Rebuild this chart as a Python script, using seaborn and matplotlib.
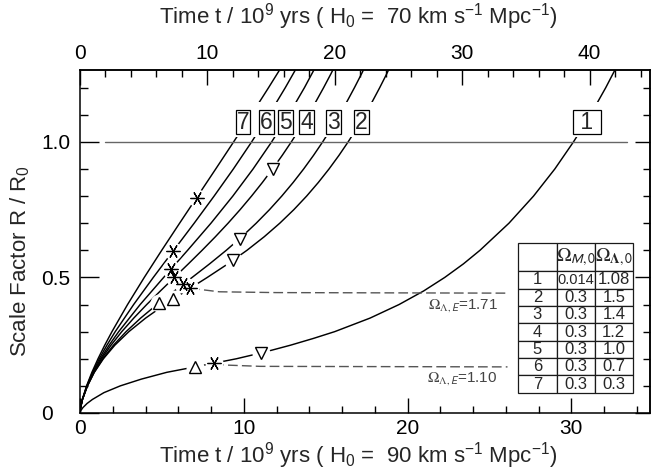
import numpy as np
import pandas as pd
import seaborn as sns
import matplotlib
import matplotlib.pyplot as plt
from matplotlib import font_manager
from matplotlib.patches import Rectangle
from matplotlib.ticker import MultipleLocator, FuncFormatter

matplotlib.use("Agg")

# ─── data (time in Gyr for H0 = 90) ───────────────────────────────
R_FINE = [0, 0.01, 0.02, 0.05, 0.1, 0.15, 0.2, 0.25, 0.3, 0.35, 0.4, 0.45, 0.5,
          0.55, 0.6, 0.65, 0.7, 0.75, 0.8, 0.85, 0.9, 0.95, 1.0, 1.05, 1.1,
          1.15, 1.2, 1.25, 1.3]
R_COARSE = [0, 0.01, 0.02, 0.05, 0.1, 0.15, 0.2, 0.25, 0.3, 0.4, 0.5, 0.6,
            0.7, 0.8, 0.9, 1.0, 1.1, 1.2, 1.3]
R_CURVE1 = [0, 0.01, 0.02, 0.035, 0.05, 0.075, 0.1, 0.125, 0.15, 0.175, 0.2,
            0.225, 0.25, 0.275, 0.3, 0.35, 0.4, 0.45, 0.5, 0.55, 0.6, 0.7,
            0.8, 0.9, 1.0, 1.1, 1.2, 1.3]

T_CURVE1 = [0, 0.061, 0.18, 0.43, 0.76, 1.46, 2.46, 3.75, 5.30, 7.45, 9.55,
            11.30, 12.85, 14.25, 15.55, 17.71, 19.48, 20.98, 22.27, 23.41,
            24.42, 26.19, 27.69, 28.99, 30.13, 31.17, 32.10, 32.96]
T_CURVE2 = [0, 0.013, 0.037, 0.15, 0.456, 0.873, 1.428, 2.127, 2.984, 4.007,
            5.184, 6.465, 7.773, 9.031, 10.194, 11.248, 12.199, 13.058, 13.838,
            14.549, 15.205, 15.810, 16.373, 16.90, 17.39, 17.86, 18.30, 18.72,
            19.11]
T_CURVE3 = [0, 0.013, 0.037, 0.15, 0.451, 0.865, 1.394, 2.042, 2.814, 3.704,
            4.697, 5.760, 6.847, 7.913, 8.930, 9.880, 10.759, 11.571, 12.319,
            13.012, 13.656, 14.256, 14.818, 15.345, 15.843, 16.313, 16.758,
            17.182, 17.587]
T_CURVE4 = [0, 0.013, 0.037, 0.148, 0.441, 0.834, 1.320, 1.894, 2.551, 3.283,
            4.074, 4.907, 5.761, 6.617, 7.455, 8.266, 9.041, 9.777, 10.474,
            11.133, 11.756, 12.346, 12.904, 13.434, 13.938, 14.417, 14.875,
            15.313, 15.731]
T_CURVE5 = [0, 0.013, 0.037, 0.147, 0.431, 0.805, 1.256, 1.777, 2.362, 3.674,
            5.109, 6.570, 7.997, 9.331, 10.567, 11.703, 12.744, 13.705, 14.591]
T_CURVE6 = [0, 0.013, 0.037, 0.146, 0.418, 0.767, 1.179, 1.642, 2.151, 3.276,
            4.476, 5.721, 6.972, 8.189, 9.365, 10.481, 11.539, 12.536, 13.478]
T_CURVE7 = [0, 0.013, 0.036, 0.144, 0.403, 0.727, 1.100, 1.510, 1.952, 2.904,
            3.925, 4.990, 6.082, 7.185, 8.287, 9.381, 10.458, 11.515, 12.546]

# Einstein-static (loitering) dashed tracks
E171_T = [6.73, 8.5, 12.0, 26.1]
E171_R = [0.460, 0.447, 0.444, 0.442]
E110_T = [8.2, 8.8, 11.0, 26.1]
E110_R = [0.184, 0.177, 0.172, 0.170]

# R = 1 reference line
ONE_T = [1.5, 33.4]
ONE_R = [1.0, 1.0]

# markers
AST_T = [8.2, 6.73, 6.30, 5.76, 5.56, 5.70, 7.12]
AST_R = [0.184, 0.460, 0.475, 0.500, 0.531, 0.598, 0.794]
UP_T = [7.05, 5.70, 4.85]
UP_R = [0.170, 0.420, 0.407]
DOWN_T = [11.05, 9.32, 9.75, 11.76]
DOWN_R = [0.221, 0.5625, 0.643, 0.900]

# curve labels
LABELS = ["1", "2", "3", "4", "5", "6", "7"]
LABEL_T = [30.96, 17.19, 15.48, 13.83, 12.56, 11.39, 9.96]
LABEL_R = 1.073

# table
MODEL_IDS = ["1", "2", "3", "4", "5", "6", "7"]
OMEGA_M0 = ["0.014", "0.3", "0.3", "0.3", "0.3", "0.3", "0.3"]
OMEGA_L0 = ["1.08", "1.5", "1.4", "1.2", "1.0", "0.7", "0.3"]
HEADER = ["", r"$\Omega_{\mathsf{M,0}}$", r"$\Omega_{\mathbf{\Lambda},\mathsf{0}}$"]

# ─── style ────────────────────────────────────────────────────────
sns.set_theme(style="ticks")
plt.rcParams.update({
    "font.family": ["Liberation Sans", "DejaVu Sans"],
    "mathtext.fontset": "custom",
    "mathtext.rm": "Liberation Sans",
    "mathtext.it": "Liberation Sans:italic",
    "mathtext.bf": "Liberation Sans:bold",
    "mathtext.sf": "Liberation Sans",
    "axes.linewidth": 1.1,
    "axes.edgecolor": "black",
    "xtick.color": "black",
    "ytick.color": "black",
})
installed = {f.name for f in font_manager.fontManager.ttflist}
HAS_NARROW = "Liberation Sans Narrow" in installed
NARROW = ["Liberation Sans Narrow", "Liberation Sans"] if HAS_NARROW \
    else ["Liberation Sans"]

fig = plt.figure(figsize=(6.53, 4.70), dpi=100)
ax = fig.add_axes([0.1225, 0.1213, 0.8729, 0.7298])

curves = {"1": (R_CURVE1, T_CURVE1), "2": (R_FINE, T_CURVE2),
          "3": (R_FINE, T_CURVE3), "4": (R_FINE, T_CURVE4),
          "5": (R_COARSE, T_CURVE5), "6": (R_COARSE, T_CURVE6),
          "7": (R_COARSE, T_CURVE7)}
df = pd.concat([pd.DataFrame({"t": t, "R": r, "model": k})
                for k, (r, t) in curves.items()])
sns.lineplot(data=df, x="t", y="R", units="model", estimator=None, sort=False,
             color="black", linewidth=1.05, ax=ax, zorder=2)

dashed = pd.concat([pd.DataFrame({"t": E171_T, "R": E171_R, "k": "a"}),
                    pd.DataFrame({"t": E110_T, "R": E110_R, "k": "b"})])
sns.lineplot(data=dashed, x="t", y="R", units="k", estimator=None, sort=False,
             color="#555555", linewidth=1.0, linestyle=(0, (7, 3)), ax=ax,
             zorder=2)
sns.lineplot(x=ONE_T, y=ONE_R, color="#666666", linewidth=1.0, ax=ax, zorder=2)

# white halos break the lines around the markers
for tt, rr in [(AST_T, AST_R), (UP_T, UP_R), (DOWN_T, DOWN_R)]:
    ax.plot(tt, rr, "o", ms=13, mfc="white", mec="none", zorder=3)
ax.plot(AST_T, AST_R, ls="none", marker=(6, 2, 90), ms=10, mec="black",
        mew=0.9, zorder=4)
ax.plot(UP_T, UP_R, ls="none", marker="^", ms=8.5, mfc="white", mec="black",
        mew=1.0, zorder=4)
ax.plot(DOWN_T, DOWN_R, ls="none", marker="v", ms=8.5, mfc="white",
        mec="black", mew=1.0, zorder=4)

ax.text(25.5, 0.398, r"$\Omega_{\Lambda,\mathsf{E}}$=1.71", ha="right",
        va="center", fontsize=11, color="#444444", math_fontfamily="stix")
ax.text(25.5, 0.128, r"$\Omega_{\Lambda,\mathsf{E}}$=1.10", ha="right",
        va="center", fontsize=11, color="#444444", math_fontfamily="stix")

# label band
ax.add_patch(Rectangle((9.4, 1.017), 8.6, 0.13, fc="white", ec="none",
                       zorder=5))
ax.add_patch(Rectangle((30.05, 1.017), 1.85, 0.13, fc="white", ec="none",
                       zorder=5))
for lab, tx in zip(LABELS, LABEL_T):
    txt = " 1 " if lab == "1" else lab
    ax.text(tx, LABEL_R, txt, ha="center", va="center",
            fontsize=18.5 if HAS_NARROW else 16.5,
            family=NARROW, zorder=7,
            bbox=dict(boxstyle="square,pad=0.04", fc="white", ec="black",
                      lw=0.9))

# table
cell_text = [[n, m, l] for n, m, l in zip(MODEL_IDS, OMEGA_M0, OMEGA_L0)]
tab = ax.table(cellText=cell_text, colLabels=HEADER, cellLoc="center",
               bbox=[0.769, 0.059, 0.201, 0.437], zorder=8)
tab.auto_set_font_size(False)
for (r, c), cell in tab.get_celld().items():
    cell.set_linewidth(0.9)
    cell.set_height(0.082 if r == 0 else 0.05)
    cell.set_width(0.067)
    cell.PAD = 0.02
    t = cell.get_text()
    if r == 0:
        t.set_fontsize(14)
        t.set_math_fontfamily("stix")
    elif t.get_text() == "0.014":
        t.set_family(NARROW)
        t.set_fontsize(12 if HAS_NARROW else 10.5)
    else:
        t.set_fontsize(12)

# ─── axes ─────────────────────────────────────────────────────────
ax.set_xlim(0, 34.8)
ax.set_ylim(0, 1.265)
ax.xaxis.set_major_locator(MultipleLocator(10))
ax.xaxis.set_minor_locator(MultipleLocator(2))
ax.yaxis.set_major_locator(MultipleLocator(0.5))
ax.yaxis.set_minor_locator(MultipleLocator(0.1))
ax.xaxis.set_major_formatter(FuncFormatter(lambda v, p: f"{v:.0f}"))
ax.yaxis.set_major_formatter(
    FuncFormatter(lambda v, p: "0" if abs(v) < 1e-9 else f"{v:.1f}"))
ax.tick_params(which="both", direction="in", top=False, right=False,
               labelsize=15)
ax.tick_params(axis="x", which="major", length=11, width=1.0, pad=4)
ax.tick_params(axis="x", which="minor", length=5, width=1.0)
ax.tick_params(axis="y", which="major", length=14, width=1.0, pad=28)
ax.tick_params(axis="y", which="minor", length=6, width=1.0)
for lab in ax.get_yticklabels():
    lab.set_horizontalalignment("left")

secy = ax.secondary_yaxis("right")
secy.yaxis.set_major_locator(MultipleLocator(0.5))
secy.yaxis.set_minor_locator(MultipleLocator(0.1))
secy.tick_params(which="both", direction="in", labelright=False)
secy.tick_params(which="major", length=11, width=1.0)
secy.tick_params(which="minor", length=5, width=1.0)

secx = ax.secondary_xaxis("top", functions=(lambda t: t * 90 / 70,
                                            lambda t: t * 70 / 90))
secx.set_xticks([0, 10, 20, 30, 40])
secx.xaxis.set_minor_locator(MultipleLocator(2))
secx.xaxis.set_major_formatter(FuncFormatter(lambda v, p: f"{v:.0f}"))
secx.tick_params(which="both", direction="in", labelsize=15)
secx.tick_params(which="major", length=11, width=1.0, pad=5)
secx.tick_params(which="minor", length=5, width=1.0)

ax.set_xlabel(r"Time t / 10$^9$ yrs ( H$_0$ =  90 km s$^{-1}$ Mpc$^{-1}$)",
              fontsize=16)
ax.xaxis.set_label_coords(0.488, -0.079)
ax.text(0.488, 1.112,
        r"Time t / 10$^9$ yrs ( H$_0$ =  70 km s$^{-1}$ Mpc$^{-1}$)",
        transform=ax.transAxes, ha="center", va="bottom", fontsize=16)
ax.set_ylabel("Scale Factor R / R$_0$", fontsize=16)
ax.yaxis.set_label_coords(-0.085, 0.443)

fig.savefig("out.png", dpi=100)
